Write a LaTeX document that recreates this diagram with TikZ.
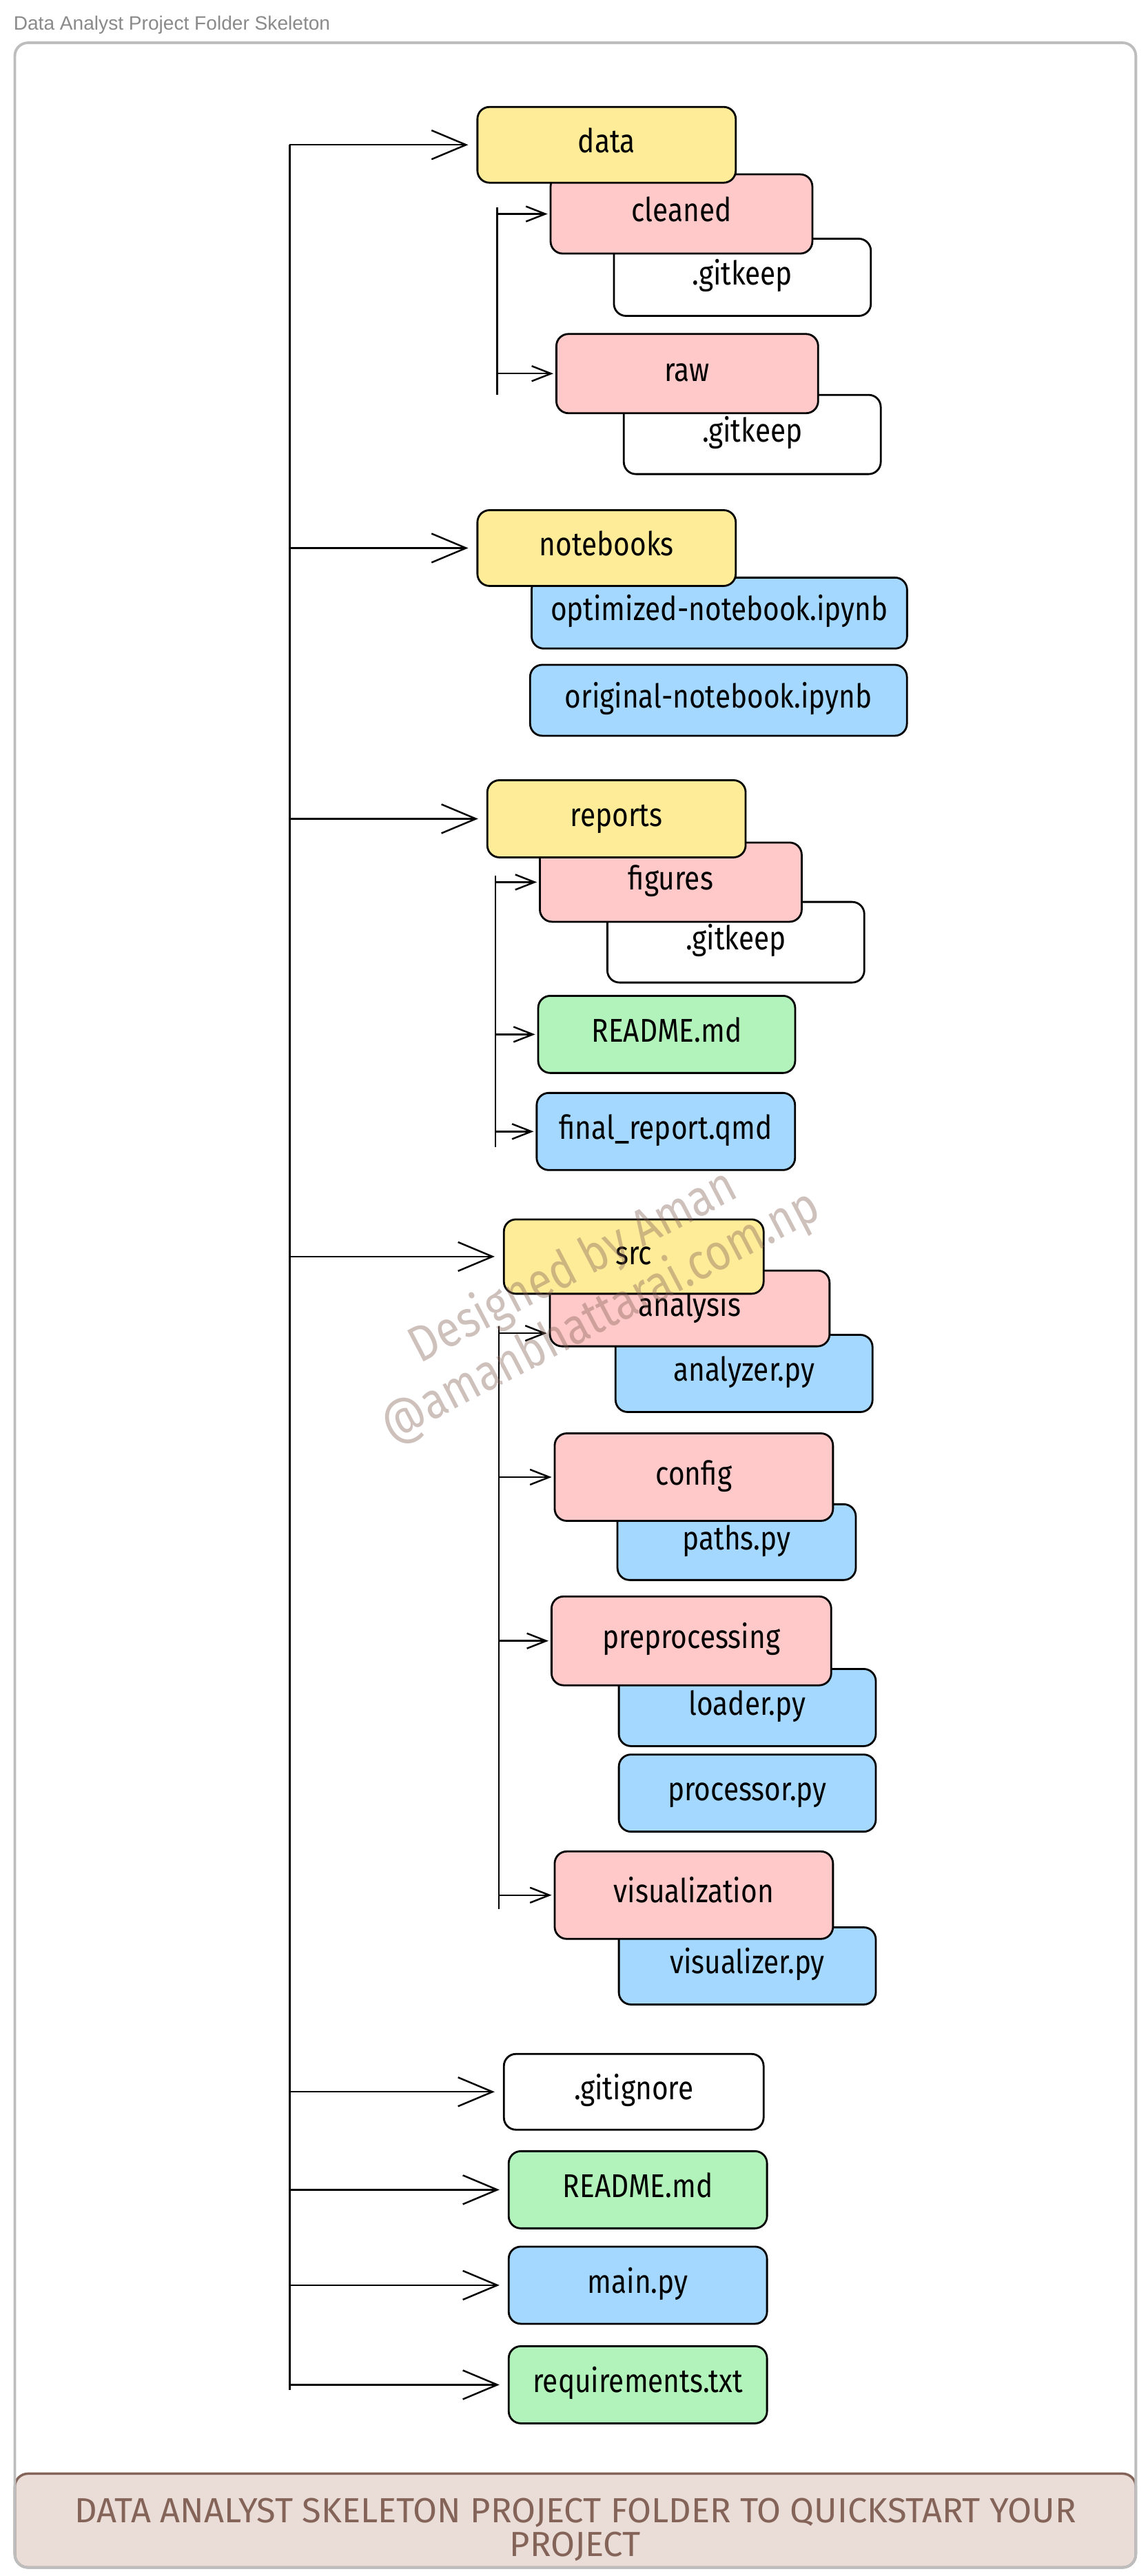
\documentclass[tikz,border=0pt]{standalone}
\usepackage{tikz}
\usepackage{xcolor}
\usepackage{fontspec}
\setmainfont{Fira Sans}[FakeStretch=0.85]
\newfontfamily\titlefont{Liberation Sans}
\newfontfamily\capsfont{Fira Sans}
\usetikzlibrary{arrows.meta}
\definecolor{folderyellow}{HTML}{FFEC99}
\definecolor{folderpink}{HTML}{FFC9C9}
\definecolor{fileblue}{HTML}{A5D8FF}
\definecolor{filegreen}{HTML}{B2F2BB}
\definecolor{footbrown}{HTML}{846358}
\definecolor{footfill}{HTML}{EADDD7}
\definecolor{framegray}{HTML}{BDBDBD}
\definecolor{titlegray}{HTML}{8A8A8A}

\begin{document}
\begin{tikzpicture}[x=0.02389cm,y=-0.02389cm,
box/.style={draw=black,line width=0.8pt,rounded corners=5pt,minimum width=3.75cm,minimum height=1.12cm,inner sep=0pt,text height=1.6ex,text depth=.4ex,font=\fontsize{13.6}{16}\selectfont},
dirbox/.style={box,fill=folderyellow},
subdirbox/.style={box,fill=folderpink,minimum width=3.8cm,minimum height=1.15cm},
pyfile/.style={box,fill=fileblue},
mdfile/.style={box,fill=filegreen},
keepfile/.style={box,fill=white,minimum width=3.73cm},
mainarrow/.style={-{Straight Barb[length=0.5cm,width=0.42cm]},line width=0.7pt,shorten >=0.12cm},
subarrow/.style={-{Straight Barb[length=0.28cm,width=0.22cm]},line width=0.7pt,shorten >=0.03cm},
trunk/.style={line width=0.7pt},
stamp/.style={text=footbrown,opacity=0.4,rotate=27.6,font=\fontsize{21}{24}\selectfont}]
\useasboundingbox (0,0) rectangle (697,1565.2);

\node[anchor=west,text=titlegray,inner sep=0pt,font=\titlefont\fontsize{8}{10}\selectfont] (title) at (8,15) {Data Analyst Project Folder Skeleton};

% footer and frame
\filldraw[fill=footfill,draw=footbrown,line width=1pt,rounded corners=0.19cm] (9,1503) rectangle (690,1560);
\draw[framegray,line width=1.1pt,rounded corners=0.19cm] (9,26) rectangle (690,1560);
\node[text=footbrown,align=center,font=\capsfont\fontsize{14.4}{14.2}\selectfont] (caption) at (349.5,1537) {DATA ANALYST SKELETON PROJECT FOLDER TO QUICKSTART YOUR\\PROJECT};

% boxes, lowest first so upper ones lie on top
\node[mdfile] (requirements) at (387.5,1449) {requirements.txt};
\node[pyfile] (mainpy) at (387.5,1388.5) {main.py};
\node[mdfile] (readme) at (387.5,1330.5) {README.md};
\node[keepfile,minimum width=3.77cm,minimum height=1.1cm] (gitignore) at (385,1271) {.gitignore};
\node[pyfile,minimum width=3.73cm] (visualizer) at (454,1194.5) {visualizer.py};
\node[subdirbox,minimum width=4.04cm,minimum height=1.27cm] (visualization) at (421.5,1151.5) {visualization};
\node[pyfile,minimum width=3.73cm] (processor) at (454,1089.5) {processor.py};
\node[pyfile,minimum width=3.73cm] (loader) at (454,1037.5) {loader.py};
\node[subdirbox,minimum width=4.06cm,minimum height=1.29cm] (preprocessing) at (420,997) {preprocessing};
\node[pyfile,minimum width=3.46cm,minimum height=1.1cm] (paths) at (447.5,937) {paths.py};
\node[subdirbox,minimum width=4.04cm,minimum height=1.27cm] (config) at (421.5,897.5) {config};
\node[pyfile,minimum width=3.73cm] (analyzer) at (452,834.5) {analyzer.py};
\node[subdirbox,minimum width=4.06cm,minimum height=1.1cm] (analysis) at (419,795) {analysis};
\node[dirbox,minimum width=3.77cm,minimum height=1.08cm] (src) at (385,763.5) {src};
\node[pyfile] (finalreport) at (404.5,687.5) {final\_report.qmd};
\node[mdfile,minimum width=3.73cm] (reportreadme) at (405,628.5) {README.md};
\node[keepfile,minimum height=1.17cm] (figkeep) at (447,572.5) {.gitkeep};
\node[subdirbox] (figures) at (407.5,536) {figures};
\node[dirbox] (reports) at (374.5,497.5) {reports};
\node[pyfile,minimum width=5.47cm,minimum height=1.03cm] (original) at (436.5,425.5) {original-notebook.ipynb};
\node[pyfile,minimum width=5.45cm,minimum height=1.03cm] (optimized) at (437,372.5) {optimized-notebook.ipynb};
\node[dirbox,minimum height=1.1cm] (notebooks) at (368.5,333) {notebooks};
\node[keepfile,minimum height=1.15cm] (rawkeep) at (457,264) {.gitkeep};
\node[subdirbox] (raw) at (417.5,227) {raw};
\node[keepfile] (cleankeep) at (451,168.5) {.gitkeep};
\node[subdirbox] (cleaned) at (414,130) {cleaned};
\node[dirbox,minimum height=1.1cm] (data) at (368.5,88) {data};

% main trunk
\coordinate (ttop) at (176,88);
\coordinate (tbot) at (176,1452);
\draw[trunk] (ttop) -- (tbot);
\foreach \dir in {data,notebooks,reports,src,gitignore,readme,mainpy,requirements}
  \draw[mainarrow] (ttop |- \dir) -- (\dir);

% data
\coordinate (dtop) at (302,126);
\coordinate (dbot) at (302,240);
\draw[trunk] (dtop) -- (dbot);
\draw[subarrow] (dtop |- cleaned) -- (cleaned);
\draw[subarrow] (dtop |- raw) -- (raw);

% reports
\coordinate (rtop) at (301,532);
\coordinate (rbot) at (301,697);
\draw[trunk] (rtop) -- (rbot);
\foreach \dir in {figures,reportreadme,finalreport}
  \draw[subarrow] (rtop |- \dir) -- (\dir);

% src
\coordinate (stop) at (303,806);
\coordinate (sbot) at (303,1160);
\coordinate (ain) at ([yshift=-0.36cm]analysis.west);
\draw[trunk] (stop) -- (sbot);
\draw[subarrow] (stop |- ain) -- (ain);
\foreach \dir in {config,preprocessing,visualization}
  \draw[subarrow] (stop |- \dir) -- (\dir);

\node[stamp] (signature) at (348.5,770) {Designed by Aman};
\node[stamp] (website) at (365,800) {@amanbhattarai.com.np};
\end{tikzpicture}
\end{document}
